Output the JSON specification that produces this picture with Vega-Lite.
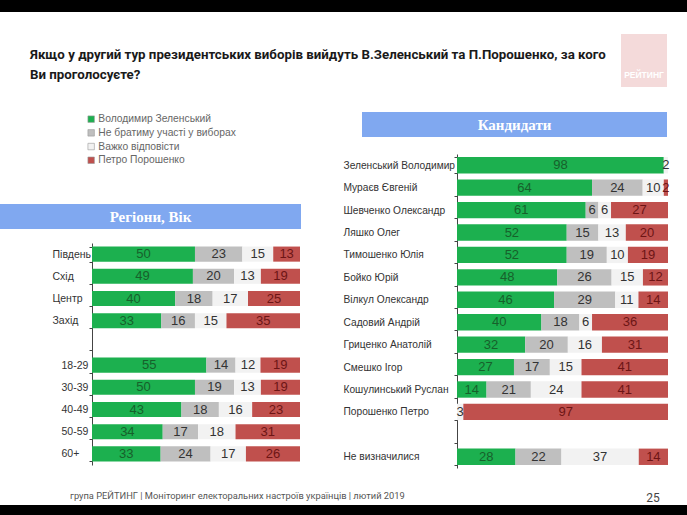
{
  "$schema": "https://vega.github.io/schema/vega-lite/v6.json",
  "padding": 0,
  "background": "white",
  "spacing": 0,
  "config": {"view": {"stroke": null}},
  "datasets": {
    "L": [
      {"g":"Південь","cat":"Володимир Зеленський","o":1,"v":50},{"g":"Південь","cat":"Не братиму участі у виборах","o":2,"v":23},{"g":"Південь","cat":"Важко відповісти","o":3,"v":15},{"g":"Південь","cat":"Петро Порошенко","o":4,"v":13},
      {"g":"Схід","cat":"Володимир Зеленський","o":1,"v":49},{"g":"Схід","cat":"Не братиму участі у виборах","o":2,"v":20},{"g":"Схід","cat":"Важко відповісти","o":3,"v":13},{"g":"Схід","cat":"Петро Порошенко","o":4,"v":19},
      {"g":"Центр","cat":"Володимир Зеленський","o":1,"v":40},{"g":"Центр","cat":"Не братиму участі у виборах","o":2,"v":18},{"g":"Центр","cat":"Важко відповісти","o":3,"v":17},{"g":"Центр","cat":"Петро Порошенко","o":4,"v":25},
      {"g":"Захід","cat":"Володимир Зеленський","o":1,"v":33},{"g":"Захід","cat":"Не братиму участі у виборах","o":2,"v":16},{"g":"Захід","cat":"Важко відповісти","o":3,"v":15},{"g":"Захід","cat":"Петро Порошенко","o":4,"v":35},
      {"g":"18-29","cat":"Володимир Зеленський","o":1,"v":55},{"g":"18-29","cat":"Не братиму участі у виборах","o":2,"v":14},{"g":"18-29","cat":"Важко відповісти","o":3,"v":12},{"g":"18-29","cat":"Петро Порошенко","o":4,"v":19},
      {"g":"30-39","cat":"Володимир Зеленський","o":1,"v":50},{"g":"30-39","cat":"Не братиму участі у виборах","o":2,"v":19},{"g":"30-39","cat":"Важко відповісти","o":3,"v":13},{"g":"30-39","cat":"Петро Порошенко","o":4,"v":19},
      {"g":"40-49","cat":"Володимир Зеленський","o":1,"v":43},{"g":"40-49","cat":"Не братиму участі у виборах","o":2,"v":18},{"g":"40-49","cat":"Важко відповісти","o":3,"v":16},{"g":"40-49","cat":"Петро Порошенко","o":4,"v":23},
      {"g":"50-59","cat":"Володимир Зеленський","o":1,"v":34},{"g":"50-59","cat":"Не братиму участі у виборах","o":2,"v":17},{"g":"50-59","cat":"Важко відповісти","o":3,"v":18},{"g":"50-59","cat":"Петро Порошенко","o":4,"v":31},
      {"g":"60+","cat":"Володимир Зеленський","o":1,"v":33},{"g":"60+","cat":"Не братиму участі у виборах","o":2,"v":24},{"g":"60+","cat":"Важко відповісти","o":3,"v":17},{"g":"60+","cat":"Петро Порошенко","o":4,"v":26}
    ],
    "R": [
      {"c":"Зеленський Володимир","cat":"Володимир Зеленський","o":1,"v":98},{"c":"Зеленський Володимир","cat":"Важко відповісти","o":3,"v":2},
      {"c":"Мураєв Євгеній","cat":"Володимир Зеленський","o":1,"v":64},{"c":"Мураєв Євгеній","cat":"Не братиму участі у виборах","o":2,"v":24},{"c":"Мураєв Євгеній","cat":"Важко відповісти","o":3,"v":10},{"c":"Мураєв Євгеній","cat":"Петро Порошенко","o":4,"v":2},
      {"c":"Шевченко Олександр","cat":"Володимир Зеленський","o":1,"v":61},{"c":"Шевченко Олександр","cat":"Не братиму участі у виборах","o":2,"v":6},{"c":"Шевченко Олександр","cat":"Важко відповісти","o":3,"v":6},{"c":"Шевченко Олександр","cat":"Петро Порошенко","o":4,"v":27},
      {"c":"Ляшко Олег","cat":"Володимир Зеленський","o":1,"v":52},{"c":"Ляшко Олег","cat":"Не братиму участі у виборах","o":2,"v":15},{"c":"Ляшко Олег","cat":"Важко відповісти","o":3,"v":13},{"c":"Ляшко Олег","cat":"Петро Порошенко","o":4,"v":20},
      {"c":"Тимошенко Юлія","cat":"Володимир Зеленський","o":1,"v":52},{"c":"Тимошенко Юлія","cat":"Не братиму участі у виборах","o":2,"v":19},{"c":"Тимошенко Юлія","cat":"Важко відповісти","o":3,"v":10},{"c":"Тимошенко Юлія","cat":"Петро Порошенко","o":4,"v":19},
      {"c":"Бойко Юрій","cat":"Володимир Зеленський","o":1,"v":48},{"c":"Бойко Юрій","cat":"Не братиму участі у виборах","o":2,"v":26},{"c":"Бойко Юрій","cat":"Важко відповісти","o":3,"v":15},{"c":"Бойко Юрій","cat":"Петро Порошенко","o":4,"v":12},
      {"c":"Вілкул Олександр","cat":"Володимир Зеленський","o":1,"v":46},{"c":"Вілкул Олександр","cat":"Не братиму участі у виборах","o":2,"v":29},{"c":"Вілкул Олександр","cat":"Важко відповісти","o":3,"v":11},{"c":"Вілкул Олександр","cat":"Петро Порошенко","o":4,"v":14},
      {"c":"Садовий Андрій","cat":"Володимир Зеленський","o":1,"v":40},{"c":"Садовий Андрій","cat":"Не братиму участі у виборах","o":2,"v":18},{"c":"Садовий Андрій","cat":"Важко відповісти","o":3,"v":6},{"c":"Садовий Андрій","cat":"Петро Порошенко","o":4,"v":36},
      {"c":"Гриценко Анатолій","cat":"Володимир Зеленський","o":1,"v":32},{"c":"Гриценко Анатолій","cat":"Не братиму участі у виборах","o":2,"v":20},{"c":"Гриценко Анатолій","cat":"Важко відповісти","o":3,"v":16},{"c":"Гриценко Анатолій","cat":"Петро Порошенко","o":4,"v":31},
      {"c":"Смешко Ігор","cat":"Володимир Зеленський","o":1,"v":27},{"c":"Смешко Ігор","cat":"Не братиму участі у виборах","o":2,"v":17},{"c":"Смешко Ігор","cat":"Важко відповісти","o":3,"v":15},{"c":"Смешко Ігор","cat":"Петро Порошенко","o":4,"v":41},
      {"c":"Кошулинський Руслан","cat":"Володимир Зеленський","o":1,"v":14},{"c":"Кошулинський Руслан","cat":"Не братиму участі у виборах","o":2,"v":21},{"c":"Кошулинський Руслан","cat":"Важко відповісти","o":3,"v":24},{"c":"Кошулинський Руслан","cat":"Петро Порошенко","o":4,"v":41},
      {"c":"Порошенко Петро","cat":"Важко відповісти","o":3,"v":3},{"c":"Порошенко Петро","cat":"Петро Порошенко","o":4,"v":97},
      {"c":"Не визначилися","cat":"Володимир Зеленський","o":1,"v":28},{"c":"Не визначилися","cat":"Не братиму участі у виборах","o":2,"v":22},{"c":"Не визначилися","cat":"Важко відповісти","o":3,"v":37},{"c":"Не визначилися","cat":"Петро Порошенко","o":4,"v":14}
    ]
  },
  "vconcat": [
    {"width": 687, "height": 12, "view": {"fill": "black"}, "data": {"values": []}, "mark": "point"},
    {
      "hconcat": [
        {"width": 621, "height": 35, "data": {"values": []}, "mark": "point",
         "title": {"text": ["Якщо у другий тур президентських виборів вийдуть В.Зеленський та П.Порошенко, за кого", "Ви проголосуєте?"],
                   "orient": "bottom", "anchor": "start", "dx": 30, "offset": 1, "baseline": "top",
                   "font": "Roboto", "fontSize": 13.3, "fontWeight": "bold", "color": "#1a1a1a", "lineHeight": 20}},
        {"vconcat": [
          {"width": 46, "height": 22, "data": {"values": []}, "mark": "point"},
          {"width": 46, "height": 53, "view": {"fill": "#f4dada"}, "data": {"values": [{"t": "РЕЙТИНГ"}]},
           "mark": {"type": "text", "color": "white", "fontWeight": "bold", "fontSize": 8.5, "dy": 14, "font": "Liberation Sans"},
           "encoding": {"text": {"field": "t"}}}
        ], "spacing": 0}
      ], "spacing": 0
    },
    {
      "hconcat": [
        {"vconcat": [
          {"width": 301, "height": 117, "data": {"values": []}, "mark": "point"},
          {"width": 301, "height": 25, "view": {"fill": "#80a8f0"}, "data": {"values": [{"t": "Регіони, Вік"}]},
           "mark": {"type": "text", "color": "white", "fontWeight": "bold", "fontSize": 15, "font": "Liberation Serif"},
           "encoding": {"text": {"field": "t"}}},
          {"width": 10, "height": 9, "data": {"values": []}, "mark": "point"},
          {"hconcat": [
            {"width": 52, "height": 5, "data": {"values": []}, "mark": "point"},
            {"width": 208, "height": 222, "data": {"name": "L"},
             "encoding": {"y": {"field": "g", "type": "nominal", "title": null,
               "scale": {"domain": ["Південь","Схід","Центр","Захід"," ","18-29","30-39","40-49","50-59","60+"], "paddingInner": 0.32, "paddingOuter": 0.16},
               "axis": {"labelAlign": "left", "labelPadding": {"condition": {"test": "indexof(['18-29','30-39','40-49','50-59','60+'], datum.value) >= 0", "value": 28}, "value": 37},
                        "tickSize": 3, "tickBand": "extent", "domainColor": "#444", "tickColor": "#444",
                        "labelFont": "Liberation Sans", "labelFontSize": 10.5, "labelColor": "#333"}}},
             "layer": [
               {"mark": {"type": "bar"},
                "encoding": {
                  "x": {"field": "v", "type": "quantitative", "stack": "normalize", "axis": null, "scale": {"domain": [0, 1], "nice": false}},
                  "color": {"field": "cat", "type": "nominal",
                    "scale": {"domain": ["Володимир Зеленський","Не братиму участі у виборах","Важко відповісти","Петро Порошенко"], "range": ["#1cb04f","#bfbfbf","#f2f2f2","#c0504d"]},
                    "legend": {"orient": "none", "legendX": 86, "legendY": 114, "title": null, "symbolType": "square", "symbolSize": 42,
                               "labelFont": "Liberation Sans", "labelFontSize": 10.3, "labelColor": "#666", "rowPadding": 2.7,
                               "symbolStrokeColor": "#999", "symbolStrokeWidth": 0.6, "labelOffset": 2}},
                  "order": {"field": "o", "type": "quantitative"}}},
               {"mark": {"type": "text", "font": "Liberation Sans", "fontSize": 13},
                "encoding": {
                  "x": {"field": "v", "type": "quantitative", "stack": "normalize", "bandPosition": 0.5, "axis": null},
                  "detail": {"field": "cat"},
                  "order": {"field": "o", "type": "quantitative"},
                  "text": {"field": "v", "type": "quantitative"},
                  "fill": {"field": "cat", "type": "nominal",
                    "scale": {"domain": ["Володимир Зеленський","Не братиму участі у виборах","Важко відповісти","Петро Порошенко"], "range": ["#17602b","#333333","#333333","#6d1515"]},
                    "legend": null}}}
             ]}
          ], "spacing": 0}
        ], "spacing": 0},
        {"vconcat": [
          {"width": 10, "height": 25, "data": {"values": []}, "mark": "point"},
          {"hconcat": [
            {"width": 20, "height": 5, "data": {"values": []}, "mark": "point"},
            {"width": 305, "height": 25, "view": {"fill": "#80a8f0"}, "data": {"values": [{"t": "Кандидати"}]},
             "mark": {"type": "text", "color": "white", "fontWeight": "bold", "fontSize": 15, "font": "Liberation Serif"},
             "encoding": {"text": {"field": "t"}}}
          ], "spacing": 0},
          {"width": 10, "height": 12, "data": {"values": []}, "mark": "point"},
          {"hconcat": [
          {"width": 1, "height": 5, "data": {"values": []}, "mark": "point"},
          {"width": 211, "height": 314, "data": {"name": "R"},
           "encoding": {"y": {"field": "c", "type": "nominal", "title": null,
             "scale": {"domain": ["Зеленський Володимир","Мураєв Євгеній","Шевченко Олександр","Ляшко Олег","Тимошенко Юлія","Бойко Юрій","Вілкул Олександр","Садовий Андрій","Гриценко Анатолій","Смешко Ігор","Кошулинський Руслан","Порошенко Петро"," ","Не визначилися"], "paddingInner": 0.27, "paddingOuter": 0.135},
             "axis": {"labelAlign": "left", "labelPadding": 111, "tickSize": 3, "tickBand": "extent", "domainColor": "#444", "tickColor": "#444",
                      "labelFont": "Liberation Sans", "labelFontSize": 10.2, "labelColor": "#333", "labelLimit": 200}}},
           "layer": [
             {"mark": {"type": "bar"},
              "encoding": {
                "x": {"field": "v", "type": "quantitative", "stack": "normalize", "axis": null, "scale": {"domain": [0, 1], "nice": false}},
                "color": {"field": "cat", "type": "nominal",
                  "scale": {"domain": ["Володимир Зеленський","Не братиму участі у виборах","Важко відповісти","Петро Порошенко"], "range": ["#1cb04f","#bfbfbf","#f2f2f2","#c0504d"]},
                  "legend": {"orient": "none", "legendX": 86, "legendY": 114, "title": null, "symbolType": "square", "symbolSize": 42,
                             "labelFont": "Liberation Sans", "labelFontSize": 10.3, "labelColor": "#666", "rowPadding": 2.7,
                             "symbolStrokeColor": "#999", "symbolStrokeWidth": 0.6, "labelOffset": 2}},
                "order": {"field": "o", "type": "quantitative"}}},
             {"mark": {"type": "text", "font": "Liberation Sans", "fontSize": 13},
              "encoding": {
                "x": {"field": "v", "type": "quantitative", "stack": "normalize", "bandPosition": 0.5, "axis": null},
                "detail": {"field": "cat"},
                "order": {"field": "o", "type": "quantitative"},
                "text": {"field": "v", "type": "quantitative"},
                "fill": {"field": "cat", "type": "nominal",
                  "scale": {"domain": ["Володимир Зеленський","Не братиму участі у виборах","Важко відповісти","Петро Порошенко"], "range": ["#17602b","#333333","#333333","#6d1515"]},
                  "legend": null}}}
           ]}
          ], "spacing": 0}
        ], "spacing": 0}
      ], "spacing": 41
    },
    {
      "vconcat": [
        {"width": 10, "height": 22, "data": {"values": []}, "mark": "point"},
        {"hconcat": [
          {"width": 640, "height": 1, "data": {"values": []}, "mark": "point",
           "title": {"text": "група РЕЙТИНГ | Моніторинг електоральних настроїв українців | лютий 2019",
                     "orient": "bottom", "anchor": "start", "dx": 70, "offset": 1, "baseline": "top",
                     "font": "Roboto", "fontSize": 9.3, "fontWeight": "normal", "color": "#555"}},
          {"width": 26, "height": 15, "data": {"values": [{"t": "25"}]},
           "mark": {"type": "text", "color": "#444", "fontSize": 12, "font": "Roboto"},
           "encoding": {"text": {"field": "t"}}}
        ], "spacing": 0}
      ], "spacing": 0
    },
    {"width": 687, "height": 11, "view": {"fill": "black"}, "data": {"values": []}, "mark": "point"}
  ]
}
